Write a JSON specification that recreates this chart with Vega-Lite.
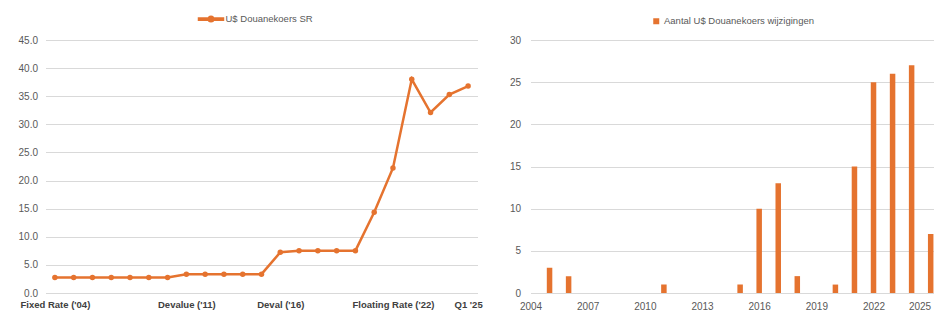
{
  "$schema": "https://vega.github.io/schema/vega-lite/v6.json",
  "padding": {"left": 17.5, "top": 5, "right": 0, "bottom": 0},
  "background": "white",
  "config": {
    "view": {"stroke": null},
    "font": "Liberation Sans",
    "axis": {"domain": false, "ticks": false, "gridColor": "#d9d9d9", "gridWidth": 1, "labelColor": "#595959", "labelFontSize": 10, "title": null}
  },
  "bounds": "flush",
  "spacing": 53,
  "resolve": {"scale": {"color": "independent"}, "legend": {"color": "independent"}},
  "hconcat": [
    {
      "width": 432,
      "height": 253,
      "data": {"values": [
        {"idx": 0, "rate": 2.75}, {"idx": 1, "rate": 2.75}, {"idx": 2, "rate": 2.75}, {"idx": 3, "rate": 2.75},
        {"idx": 4, "rate": 2.75}, {"idx": 5, "rate": 2.75}, {"idx": 6, "rate": 2.75},
        {"idx": 7, "rate": 3.35}, {"idx": 8, "rate": 3.35}, {"idx": 9, "rate": 3.35}, {"idx": 10, "rate": 3.35}, {"idx": 11, "rate": 3.35},
        {"idx": 12, "rate": 7.24}, {"idx": 13, "rate": 7.53}, {"idx": 14, "rate": 7.53}, {"idx": 15, "rate": 7.53}, {"idx": 16, "rate": 7.53},
        {"idx": 17, "rate": 14.35}, {"idx": 18, "rate": 22.24}, {"idx": 19, "rate": 38.0}, {"idx": 20, "rate": 32.1},
        {"idx": 21, "rate": 35.3}, {"idx": 22, "rate": 36.8}
      ]},
      "mark": {"type": "line", "strokeWidth": 2.5, "point": {"filled": true, "size": 30}},
      "encoding": {
        "x": {"field": "idx", "type": "ordinal", "sort": null,
          "axis": {"labelAngle": 0, "labelOverlap": false, "labelPadding": 6, "labelFontWeight": "bold", "labelColor": "#404040", "labelFontSize": 9.5, "grid": false,
            "labelExpr": "datum.value == 0 ? \"Fixed Rate ('04)\" : datum.value == 7 ? \"Devalue ('11)\" : datum.value == 12 ? \"Deval ('16)\" : datum.value == 18 ? \"Floating Rate ('22)\" : datum.value == 22 ? \"Q1 '25\" : ''"}},
        "y": {"field": "rate", "type": "quantitative", "scale": {"domain": [0, 45]},
          "axis": {"values": [0, 5, 10, 15, 20, 25, 30, 35, 40, 45], "format": ".1f", "labelPadding": 8}},
        "color": {"datum": "U$ Douanekoers SR", "scale": {"range": ["#E5732F"]},
          "legend": {"orient": "none", "legendX": 152, "legendY": -34.5, "title": null, "padding": 0,
            "symbolType": "M-1,-0.09H1V0.09H-1Z M0.22,0A0.22,0.22 0 1,1 -0.22,0A0.22,0.22 0 1,1 0.22,0Z",
            "symbolSize": 625, "labelOffset": 1, "labelFontSize": 9.5, "labelColor": "#595959",
            "encode": {"symbols": {"update": {"fill": {"value": "#E5732F"}, "stroke": {"value": "transparent"}, "opacity": {"value": 1}}}}}}
      }
    },
    {
      "width": 404,
      "height": 253,
      "data": {"values": [
        {"year": 2004, "n": 0}, {"year": 2005, "n": 3}, {"year": 2006, "n": 2}, {"year": 2007, "n": 0},
        {"year": 2008, "n": 0}, {"year": 2009, "n": 0}, {"year": 2010, "n": 0}, {"year": 2011, "n": 1},
        {"year": 2012, "n": 0}, {"year": 2013, "n": 0}, {"year": 2014, "n": 0}, {"year": 2015, "n": 1},
        {"year": 2016, "n": 10}, {"year": 2017, "n": 13}, {"year": 2018, "n": 2}, {"year": 2019, "n": 0},
        {"year": 2020, "n": 1}, {"year": 2021, "n": 15}, {"year": 2022, "n": 25}, {"year": 2023, "n": 26},
        {"year": 2024, "n": 27}, {"year": 2025, "n": 7}
      ]},
      "mark": {"type": "bar", "size": 5.5, "clip": true},
      "encoding": {
        "x": {"field": "year", "type": "quantitative", "scale": {"domain": [2004, 2025.2], "nice": false, "zero": false, "padding": 0},
          "axis": {"values": [2004, 2007, 2010, 2013, 2016, 2019, 2022, 2025], "format": "d", "grid": false, "labelPadding": 8,
            "labelAlign": {"condition": {"test": "datum.value == 2025", "value": "right"}, "value": "center"}}},
        "y": {"field": "n", "type": "quantitative", "scale": {"domain": [0, 30]},
          "axis": {"values": [0, 5, 10, 15, 20, 25, 30], "format": "d", "labelPadding": 10}},
        "color": {"datum": "Aantal U$ Douanekoers wijzigingen", "scale": {"range": ["#E5732F"]},
          "legend": {"orient": "none", "legendX": 121, "legendY": -23.5, "title": null, "padding": 0,
            "symbolType": "square", "symbolSize": 36, "labelOffset": 3, "labelFontSize": 9.5, "labelColor": "#595959"}}
      }
    }
  ]
}
